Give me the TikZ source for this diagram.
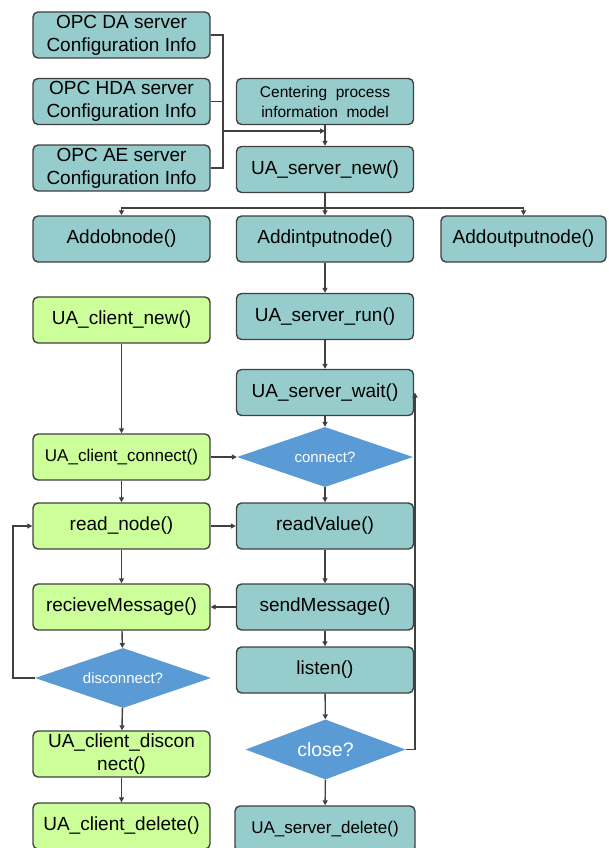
\documentclass[tikz,border=0pt]{standalone}
\usepackage{fontspec}
\setmainfont{Liberation Sans}
\usetikzlibrary{shapes.geometric,arrows.meta}
\definecolor{srvfill}{RGB}{150,204,204}
\definecolor{clifill}{RGB}{204,255,153}
\definecolor{decfill}{RGB}{91,155,213}
\definecolor{edgegray}{RGB}{64,64,64}

\begin{document}
\begin{tikzpicture}[x=1pt,y=-1pt,
  box/.style={draw=edgegray,line width=1.4pt,rounded corners=5pt,
    minimum width=177pt,minimum height=46pt,inner sep=0pt,align=center,
    font=\fontsize{19}{23}\selectfont},
  srv/.style={box,fill=srvfill},
  cli/.style={box,fill=clifill},
  dec/.style={diamond,aspect=3,fill=decfill,inner sep=0pt,
    minimum width=176pt,minimum height=60pt,text=white,
    font=\fontsize{15}{18}\selectfont},
  link/.style={draw=edgegray,line width=1.4pt},
  arr/.style={link,-{Triangle[length=5pt,width=5pt]}}
]
\useasboundingbox (0,0) rectangle (608,848);

% configuration sources and information model
\node[srv] (da)  at (121.5,35)    {OPC DA server\\Configuration Info};
\node[srv] (hda) at (121.5,101.5) {OPC HDA server\\Configuration Info};
\node[srv] (ae)  at (121.5,168)   {OPC AE server\\Configuration Info};
\node[srv,font=\fontsize{15.5}{20}\selectfont] (model) at (325,101.5)
  {Centering\ \ process\\information\ \ model};

% server side
\node[srv] (new)  at (325,169.5) {UA\_server\_new()};
\node[srv] (obn)  at (121.5,239) {Addobnode()};
\node[srv] (inn)  at (325,239)   {Addintputnode()};
\node[srv,minimum width=165pt] (outn) at (523.5,239) {Addoutputnode()};
\node[srv] (run)  at (325,316.5) {UA\_server\_run()};
\node[srv] (wait) at (325,392.5) {UA\_server\_wait()};
\node[dec] (cq)   at (325,457)   {connect?};
\node[srv] (rv)   at (325,526)   {readValue()};
\node[srv] (sm)   at (325,607)   {sendMessage()};
\node[srv] (lis)  at (325,670)   {listen()};
\node[dec,minimum width=160pt,font=\fontsize{19.5}{23}\selectfont] (clq)
  at (325.5,749.5) {close?};
\node[srv,minimum width=180pt,font=\fontsize{17}{20}\selectfont] (sdel)
  at (325,829) {UA\_server\_delete()};

% client side
\node[cli] (cnew) at (121.5,320) {UA\_client\_new()};
\node[cli,font=\fontsize{17}{20}\selectfont] (conn) at (121.5,457)
  {UA\_client\_connect()};
\node[cli] (rn)   at (121.5,526) {read\_node()};
\node[cli] (rm)   at (121.5,607) {recieveMessage()};
\node[dec] (dq)   at (123,678)   {disconnect?};
\node[cli] (cdis) at (121.5,754) {UA\_client\_discon\\nect()};
\node[cli] (cdel) at (121.5,826) {UA\_client\_delete()};

% merge of configuration info into the server
\coordinate (mj) at (223,131);
\draw[link] (da.east) -| (mj);
\draw[link] (ae.east) -| (mj);
\draw[link] (hda.east) -- (hda.east -| mj);
\draw[arr] (mj) -- (mj -| new.north);
\draw[arr] (model) -- (new);

% node creation fan-out
\coordinate (split) at (325,208);
\draw[link] (new.south) -- (split);
\draw[arr] (split) -| (obn.north);
\draw[arr] (split) -- (inn.north);
\draw[arr] (split) -| (outn.north);

% server flow
\draw[arr] (inn) -- (run);
\draw[arr] (run) -- (wait);
\draw[arr] (wait) -- (cq);
\draw[arr] (cq) -- (rv);
\draw[arr] (rv) -- (sm);
\draw[arr] (sm) -- (lis);
\draw[arr] (lis) -- (clq);
\draw[arr] (clq) -- (sdel);
\coordinate (rx) at (415,0);
\draw[arr] (clq.east) -| (wait.east -| rx);

% client flow
\draw[arr] (cnew) -- (conn);
\draw[arr] (conn) -- (rn);
\draw[arr] (rn) -- (rm);
\draw[arr] (rm) -- (dq);
\draw[arr] (dq) -- (cdis);
\draw[arr] (cdis) -- (cdel);
\coordinate (lx) at (13,0);
\draw[arr] (dq.west) -- (dq.west -| lx) |- (rn.west);

% client/server exchanges
\draw[arr] (conn) -- (cq);
\draw[arr] (rn) -- (rv);
\draw[arr] (sm) -- (rm);
\end{tikzpicture}
\end{document}
